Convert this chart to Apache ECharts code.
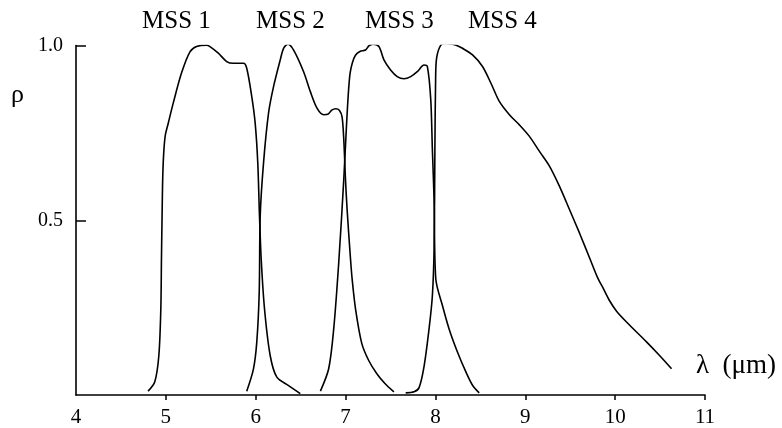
<!DOCTYPE html>
<html>
<head>
<meta charset="utf-8">
<script src="https://cdn.jsdelivr.net/npm/echarts@6/dist/echarts.min.js"></script>
<style>
html,body{margin:0;padding:0;background:#fff;}
#chart{width:782px;height:428px;}
</style>
</head>
<body>
<div id="chart"></div>
<script>
// Wavelength (µm) and relative response for each MSS band
const mss1X = [4.802,4.877,4.922,4.944,4.951,4.959,4.966,4.978,4.995,5.026,5.082,5.174,5.268,5.342,5.453,5.491,5.584,5.677,5.752,5.863,5.900,5.956,5.994,6.023,6.042,6.061,6.098,6.161,6.235,6.366,6.496];
const mss1Y = [0.011,0.038,0.113,0.246,0.389,0.531,0.630,0.700,0.745,0.777,0.835,0.921,0.982,0.997,1.001,0.997,0.978,0.954,0.949,0.949,0.935,0.854,0.778,0.664,0.512,0.389,0.246,0.113,0.051,0.027,0.004];

const mss2X = [5.900,5.975,6.012,6.039,6.050,6.087,6.143,6.199,6.273,6.310,6.358,6.422,6.533,6.608,6.682,6.757,6.802,6.846,6.891,6.930,6.961,6.980,6.999,7.017,7.055,7.073,7.111,7.181,7.259,7.348,7.438,7.538];
const mss2Y = [0.011,0.075,0.152,0.294,0.512,0.664,0.807,0.883,0.959,0.992,1.004,0.987,0.925,0.868,0.821,0.802,0.803,0.815,0.819,0.815,0.796,0.731,0.617,0.531,0.389,0.332,0.246,0.147,0.098,0.061,0.033,0.009];

const mss3X = [6.720,6.812,6.868,6.924,6.980,7.008,7.030,7.050,7.075,7.110,7.160,7.222,7.259,7.304,7.371,7.427,7.501,7.575,7.650,7.725,7.798,7.873,7.910,7.948,7.966,7.985,8.004,8.078,8.152,8.245,8.339,8.413,8.487];
const mss3Y = [0.011,0.075,0.189,0.379,0.617,0.760,0.860,0.920,0.950,0.972,0.983,0.987,0.999,1.004,0.997,0.959,0.930,0.911,0.905,0.911,0.925,0.944,0.940,0.845,0.702,0.560,0.332,0.256,0.189,0.123,0.066,0.028,0.006];

const mss4X = [7.669,7.762,7.818,7.873,7.929,7.966,7.985,7.994,8.002,8.013,8.060,8.119,8.171,8.231,8.301,8.413,8.524,8.618,8.711,8.823,8.934,9.046,9.158,9.269,9.381,9.493,9.604,9.716,9.806,9.872,9.940,10.018,10.126,10.349,10.494,10.628];
const mss4Y = [0.006,0.009,0.021,0.081,0.189,0.284,0.417,0.702,0.902,0.964,1.001,1.006,1.004,1.001,0.992,0.973,0.940,0.892,0.840,0.802,0.773,0.740,0.697,0.655,0.597,0.530,0.463,0.392,0.335,0.303,0.269,0.239,0.209,0.152,0.113,0.075];

const bandNames = ['MSS 1','MSS 2','MSS 3','MSS 4'];
const xTicks = [4,5,6,7,8,9,10,11];
const yTicks = [0.5,1.0];

const pair = (xs, ys) => xs.map((x, i) => [x, ys[i]]);
const bands = [pair(mss1X, mss1Y), pair(mss2X, mss2Y), pair(mss3X, mss3Y), pair(mss4X, mss4Y)];

const serif = '"Liberation Serif", "Times New Roman", serif';
const chart = echarts.init(document.getElementById('chart'), null, {renderer: 'canvas'});

chart.setOption({
  animation: false,
  backgroundColor: '#fff',
  grid: {left: 76, right: 77, top: 45.5, bottom: 31.5, containLabel: false},
  xAxis: {
    type: 'value', min: 4, max: 11, interval: 1,
    axisLine: {show: true, lineStyle: {color: '#000', width: 1.6}},
    axisTick: {show: true, length: 5, inside: false, lineStyle: {color: '#000', width: 1.5},
      customValues: xTicks.slice(1)},
    axisLabel: {color: '#000', fontFamily: serif, fontSize: 21, margin: 12,
      customValues: xTicks, formatter: v => String(v)},
    splitLine: {show: false}
  },
  yAxis: {
    type: 'value', min: 0, max: 1, interval: 0.5,
    axisLine: {show: true, lineStyle: {color: '#000', width: 1.6}},
    axisTick: {show: true, length: 10, inside: true, lineStyle: {color: '#000', width: 1.5},
      customValues: yTicks},
    axisLabel: {color: '#000', fontFamily: serif, fontSize: 20, margin: 13,
      customValues: yTicks, formatter: v => v.toFixed(1)},
    splitLine: {show: false}
  },
  series: bands.map((d, i) => ({
    name: bandNames[i],
    type: 'line',
    data: d,
    smooth: 0.3,
    showSymbol: false,
    lineStyle: {color: '#000', width: 1.6},
    z: 3
  })),
  graphic: [
    {type: 'text', left: 142, top: 8.5, style: {text: bandNames[0], font: '25px ' + serif, fill: '#000'}},
    {type: 'text', left: 256, top: 8.5, style: {text: bandNames[1], font: '25px ' + serif, fill: '#000'}},
    {type: 'text', left: 365, top: 8.5, style: {text: bandNames[2], font: '25px ' + serif, fill: '#000'}},
    {type: 'text', left: 468, top: 8.5, style: {text: bandNames[3], font: '25px ' + serif, fill: '#000'}},
    {type: 'text', left: 11, top: 82, style: {text: 'ρ', font: '26px ' + serif, fill: '#000'}},
    {type: 'text', left: 696, top: 352, style: {text: 'λ  (μm)', font: '27px ' + serif, fill: '#000'}}
  ]
});
</script>
</body>
</html>
